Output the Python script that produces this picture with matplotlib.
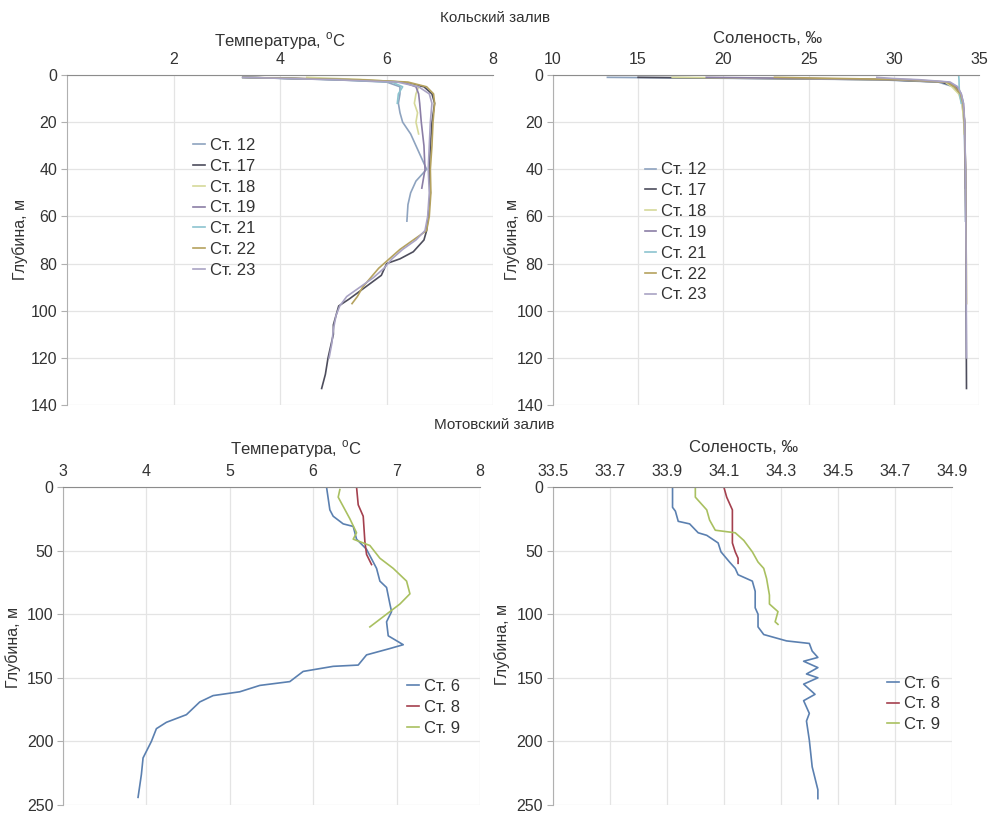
import matplotlib.pyplot as plt

plt.rcParams['font.family'] = ['Liberation Sans Narrow', 'Liberation Sans', 'DejaVu Sans']
plt.rcParams['mathtext.fontset'] = 'custom'
plt.rcParams['mathtext.rm'] = 'Liberation Sans'

# --- Кольский залив: температура ---
k_names = ["Ст. 12", "Ст. 17", "Ст. 18", "Ст. 19", "Ст. 21", "Ст. 22", "Ст. 23"]
k_colors = ["#8ea3bf", "#4d4d5c", "#d6d99a", "#8b7ea6", "#8cc4cf", "#b5a25e", "#a9a3c4"]

k_t_depth = [
    [1, 2, 3, 5, 8, 12, 16, 20, 25, 30, 35, 40, 45, 50, 55, 62],
    [1, 2, 3, 5, 8, 12, 20, 30, 40, 50, 60, 66, 70, 75, 78, 80, 85, 90, 95, 98, 102, 106, 110, 115, 120, 127, 133],
    [1, 2, 3, 5, 8, 12, 16, 20, 25],
    [1, 2, 3, 5, 8, 12, 20, 30, 40, 48],
    [1, 2, 3, 5, 8, 12],
    [1, 2, 3, 5, 8, 12, 20, 30, 40, 50, 60, 66, 70, 74, 78, 82, 86, 90, 94, 97],
    [1, 2, 3, 5, 8, 12, 20, 30, 40, 50, 60, 66, 70, 74, 78, 82, 86, 90, 94, 98, 102, 108, 114, 120],
]
k_temp = [
    [3.3, 5.0, 6.0, 6.25, 6.25, 6.22, 6.25, 6.3, 6.45, 6.55, 6.65, 6.75, 6.55, 6.45, 6.4, 6.38],
    [3.3, 5.2, 6.3, 6.7, 6.85, 6.9, 6.85, 6.82, 6.8, 6.82, 6.78, 6.75, 6.7, 6.5, 6.25, 6.0, 5.9, 5.6, 5.3, 5.1, 5.05, 5.0, 5.0, 4.95, 4.9, 4.85, 4.78],
    [4.5, 5.6, 6.3, 6.6, 6.55, 6.52, 6.58, 6.55, 6.6],
    [3.3, 5.3, 6.3, 6.55, 6.6, 6.62, 6.65, 6.7, 6.72, 6.66],
    [3.3, 5.1, 6.1, 6.3, 6.22, 6.2],
    [3.3, 5.5, 6.4, 6.75, 6.88, 6.9, 6.87, 6.85, 6.82, 6.83, 6.8, 6.75, 6.5, 6.25, 6.05, 5.85, 5.7, 5.55, 5.45, 5.35],
    [3.3, 5.0, 6.2, 6.6, 6.8, 6.85, 6.82, 6.8, 6.78, 6.8, 6.77, 6.72, 6.55, 6.3, 6.1, 5.95, 5.75, 5.5, 5.25, 5.12, 5.05, 5.0, 4.97, 4.92],
]

# --- Кольский залив: соленость ---
k_s_depth = [
    [1, 1.5, 2, 3, 5, 8, 12, 20, 40, 62],
    [1, 1.5, 2, 3, 5, 8, 12, 20, 40, 60, 80, 100, 133],
    [1, 1.5, 2, 3, 5, 8, 12, 20, 25],
    [1, 1.5, 2, 3, 5, 8, 12, 20, 40, 48],
    [0, 2, 5, 8, 12],
    [1, 1.5, 2, 3, 5, 8, 12, 20, 40, 60, 80, 97],
    [1, 1.5, 2, 3, 5, 8, 12, 20, 40, 60, 80, 100, 120],
]
k_sal = [
    [13.2, 22, 29, 32.6, 33.5, 33.85, 34.0, 34.12, 34.18, 34.2],
    [15.0, 23, 29.5, 32.8, 33.6, 33.9, 34.05, 34.15, 34.2, 34.22, 34.23, 34.24, 34.26],
    [17.0, 24, 30, 33.0, 33.4, 33.8, 34.0, 34.1, 34.12],
    [19.0, 25, 30.5, 33.2, 33.7, 33.95, 34.08, 34.14, 34.2, 34.2],
    [33.8, 33.82, 33.83, 33.85, 33.95],
    [23.0, 27, 31, 33.1, 33.55, 33.9, 34.05, 34.15, 34.2, 34.22, 34.25, 34.26],
    [29.0, 30, 31.5, 33.3, 33.75, 33.95, 34.08, 34.16, 34.2, 34.22, 34.24, 34.25, 34.26],
]

# --- Мотовский залив ---
m_names = ["Ст. 6", "Ст. 8", "Ст. 9"]
m_colors = ["#5b80b0", "#a4404e", "#a9c060"]

m_t_depth = [
    [0, 18, 23, 29, 31, 41, 49, 59, 64, 74, 79, 92, 98, 106, 117, 124, 127, 132, 140, 141, 145, 153, 156, 161, 164, 169, 179, 185, 190, 200, 213, 226, 244],
    [0, 14, 23, 43, 53, 61],
    [2, 8, 25, 36, 41, 46, 56, 64, 74, 84, 92, 100, 110],
]
m_temp = [
    [6.16, 6.2, 6.24, 6.36, 6.48, 6.52, 6.64, 6.72, 6.76, 6.8, 6.88, 6.92, 6.94, 6.88, 6.9, 7.08, 6.92, 6.64, 6.54, 6.24, 5.88, 5.72, 5.36, 5.12, 4.8, 4.64, 4.48, 4.24, 4.12, 4.06, 3.96, 3.94, 3.9],
    [6.52, 6.54, 6.6, 6.62, 6.64, 6.7],
    [6.32, 6.3, 6.44, 6.52, 6.48, 6.68, 6.8, 6.96, 7.12, 7.16, 7.04, 6.88, 6.68],
]

m_s_depth = [
    [1, 16, 19, 27, 29, 36, 38, 44, 51, 59, 64, 69, 74, 82, 95, 100, 110, 116, 121, 123, 129, 134, 137, 142, 147, 150, 155, 163, 168, 178, 184, 199, 220, 238, 245],
    [0, 8, 13, 18, 44, 51, 56, 60],
    [1, 8, 13, 18, 26, 34, 36, 42, 51, 59, 64, 72, 85, 92, 98, 106, 108],
]
m_sal = [
    [33.92, 33.92, 33.93, 33.94, 33.98, 34.01, 34.04, 34.08, 34.09, 34.12, 34.14, 34.15, 34.2, 34.21, 34.21, 34.22, 34.22, 34.24, 34.32, 34.4, 34.41, 34.43, 34.38, 34.43, 34.39, 34.43, 34.38, 34.42, 34.38, 34.4, 34.39, 34.4, 34.41, 34.43, 34.43],
    [34.1, 34.11, 34.12, 34.13, 34.13, 34.14, 34.15, 34.15],
    [34.0, 34.0, 34.02, 34.04, 34.05, 34.07, 34.14, 34.17, 34.2, 34.22, 34.24, 34.25, 34.26, 34.26, 34.29, 34.28, 34.29],
]

fig = plt.figure(figsize=(9.89, 8.16), dpi=100)

ax1 = fig.add_axes([0.0677, 0.5037, 0.431, 0.4044])
ax2 = fig.add_axes([0.559, 0.5037, 0.431, 0.4044])
ax3 = fig.add_axes([0.0637, 0.0135, 0.4216, 0.3897])
ax4 = fig.add_axes([0.559, 0.0135, 0.4034, 0.3897])


def style(ax, xlim, xticks, xlabels, ylim, yticks):
    ax.set_xlim(*xlim)
    ax.set_ylim(ylim, 0)
    ax.xaxis.tick_top()
    ax.set_xticks(xticks)
    ax.set_xticklabels(xlabels)
    ax.set_yticks(yticks)
    ax.grid(True, color="#e4e4e4", lw=0.9)
    ax.set_axisbelow(True)
    for s in ["right", "bottom"]:
        ax.spines[s].set_visible(False)
    ax.spines["top"].set_color("#8c8c8c")
    ax.spines["left"].set_color("#b0b0b0")
    ax.tick_params(axis="x", length=0, pad=6, labelsize=11.5, colors="#333333")
    ax.tick_params(axis="y", length=4, color="#b0b0b0", pad=3, labelsize=11.5, labelcolor="#333333")


for d, v, c, n in zip(k_t_depth, k_temp, k_colors, k_names):
    ax1.plot(v, d, color=c, lw=1.2, label=n)
for d, v, c, n in zip(k_s_depth, k_sal, k_colors, k_names):
    ax2.plot(v, d, color=c, lw=1.2, label=n)
for d, v, c, n in zip(m_t_depth, m_temp, m_colors, m_names):
    ax3.plot(v, d, color=c, lw=1.2, label=n)
for d, v, c, n in zip(m_s_depth, m_sal, m_colors, m_names):
    ax4.plot(v, d, color=c, lw=1.2, label=n)

style(ax1, (0, 8), [2, 4, 6, 8], ["2", "4", "6", "8"], 140, range(0, 141, 20))
style(ax2, (10, 35), [10, 15, 20, 25, 30, 35], ["10", "15", "20", "25", "30", "35"], 140, range(0, 141, 20))
style(ax3, (3, 8), [3, 4, 5, 6, 7, 8], ["3", "4", "5", "6", "7", "8"], 250, range(0, 251, 50))
sal_ticks = [33.5, 33.7, 33.9, 34.1, 34.3, 34.5, 34.7, 34.9]
style(ax4, (33.5, 34.9), sal_ticks, [f"{t:.1f}" for t in sal_ticks], 250, range(0, 251, 50))

leg_kw = dict(loc="upper left", frameon=False, fontsize=12, handlelength=0.7,
              handletextpad=0.3, labelspacing=0.35, borderpad=0, borderaxespad=0)
for ax, pos in [(ax1, (0.195, 0.831)), (ax2, (0.652, 0.801)),
                (ax3, (0.4115, 0.168)), (ax4, (0.897, 0.172))]:
    leg = ax.legend(bbox_to_anchor=pos, bbox_transform=fig.transFigure, **leg_kw)
    for t in leg.get_texts():
        t.set_color("#333333")

tc = "#333333"
fig.text(0.5, 0.978, "Кольский залив", ha="center", va="center", fontsize=11, color=tc)
fig.text(0.5, 0.479, "Мотовский залив", ha="center", va="center", fontsize=11, color=tc)
fig.text(0.283, 0.949, r"Температура, $^{\rm o}$C", ha="center", va="center", fontsize=12, color=tc)
fig.text(0.776, 0.953, "Соленость, ‰", ha="center", va="center", fontsize=12, color=tc)
fig.text(0.299, 0.449, r"Температура, $^{\rm o}$C", ha="center", va="center", fontsize=12, color=tc)
fig.text(0.752, 0.451, "Соленость, ‰", ha="center", va="center", fontsize=12, color=tc)

for x, y in [(0.020, 0.706), (0.518, 0.706), (0.013, 0.206), (0.508, 0.210)]:
    fig.text(x, y, "Глубина, м", rotation=90, ha="center", va="center", fontsize=11.5, color=tc)

fig.savefig("out.png", dpi=100)
